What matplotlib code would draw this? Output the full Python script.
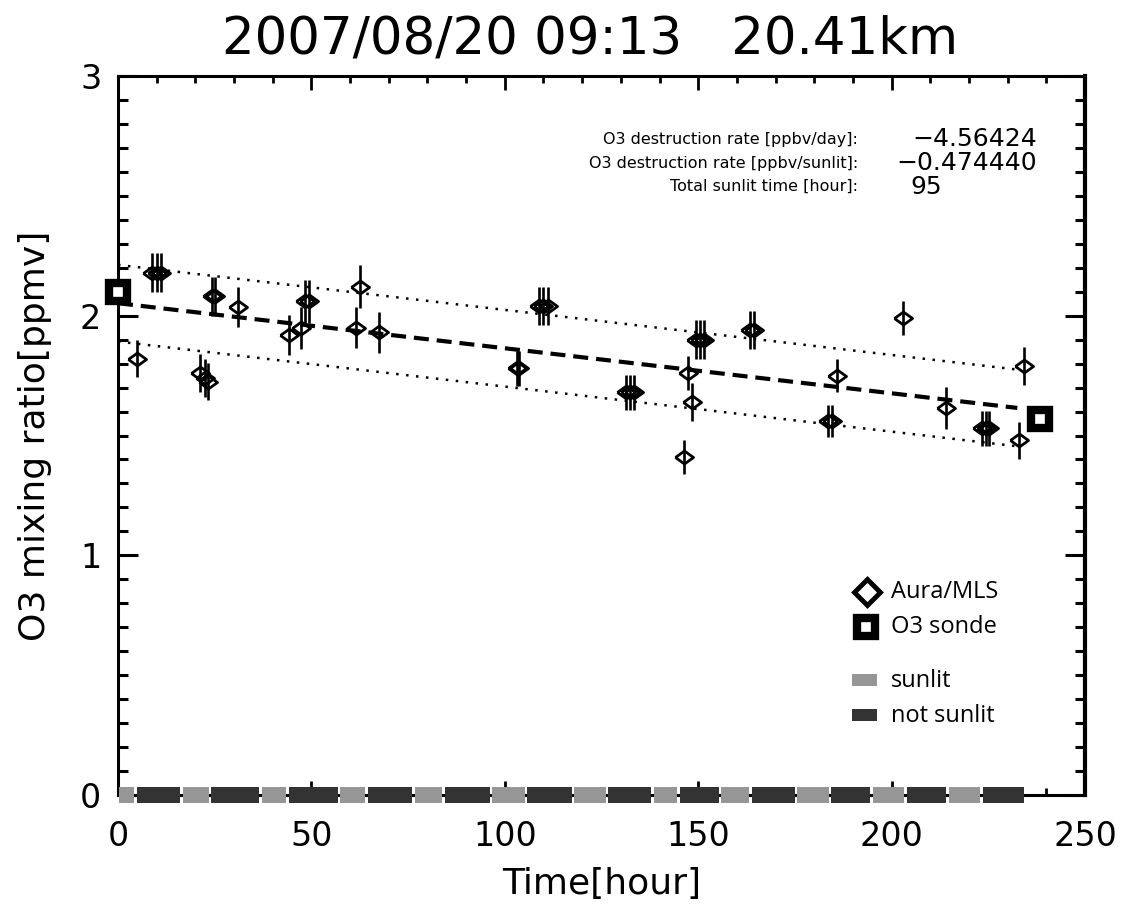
import matplotlib
matplotlib.use("Agg")
import matplotlib.pyplot as plt
from matplotlib.ticker import MultipleLocator

# Aura/MLS samples along the trajectory
mls_hour = [4.9, 8.8, 10.1, 11.1, 21.2, 22.5, 23.3, 24.3, 25.1, 31.0,
            44.2, 47.3, 48.3, 49.4, 61.5, 62.6, 67.5, 103.2, 103.7, 108.8,
            109.9, 111.2, 131.3, 132.4, 133.4, 146.3, 147.4, 148.4, 149.4, 150.5,
            151.5, 163.4, 164.4, 183.6, 184.6, 185.9, 202.9, 214.1, 223.4, 224.4,
            225.2, 232.9, 234.2]
mls_o3 = [1.82, 2.18, 2.18, 2.18, 1.76, 1.74, 1.725, 2.08, 2.08, 2.035,
          1.92, 1.95, 2.06, 2.06, 1.95, 2.12, 1.93, 1.78, 1.78, 2.04,
          2.04, 2.04, 1.68, 1.68, 1.68, 1.41, 1.76, 1.64, 1.90, 1.90,
          1.90, 1.94, 1.94, 1.56, 1.56, 1.75, 1.99, 1.615, 1.53, 1.53,
          1.53, 1.48, 1.79]
mls_err = [0.077, 0.083, 0.083, 0.083, 0.078, 0.078, 0.078, 0.083, 0.083, 0.083,
           0.083, 0.088, 0.09, 0.09, 0.085, 0.09, 0.087, 0.073, 0.073, 0.08,
           0.08, 0.08, 0.074, 0.074, 0.074, 0.072, 0.071, 0.078, 0.08, 0.08,
           0.08, 0.08, 0.08, 0.068, 0.068, 0.068, 0.072, 0.089, 0.074, 0.074,
           0.074, 0.078, 0.078]

# ozonesonde at start and end of the match
sonde_hour = [0.0, 238.4]
sonde_o3 = [2.10, 1.57]

# linear fit and its spread
fit_hour = [0.0, 232.5]
fit_o3 = [2.052, 1.615]
fit_band = 0.16

# sunlit / not sunlit periods along the trajectory
sun_edges = [0.0, 4.5, 16.5, 23.8, 36.8, 43.8, 57.1, 64.2, 76.4, 84.2, 96.4,
             105.5, 117.6, 126.4, 138.1, 144.9, 155.6, 163.5, 175.3, 184.1,
             194.8, 203.6, 214.4, 223.2, 234.5]
sun_state = [1, 0] * 12

info_labels = ["O3 destruction rate [ppbv/day]:",
               "O3 destruction rate [ppbv/sunlit]:",
               "Total sunlit time [hour]:"]
info_values = ["\u22124.56424", "\u22120.474440", "95"]

C_SUN = "#969696"
C_DARK = "#333333"

fig = plt.figure(figsize=(11.34, 9.10), dpi=100)
W, H = 1134, 910
ax = fig.add_axes([118 / W, 1 - 795 / H, 967 / W, 719 / H])

ax.set_xlim(0, 250)
ax.set_ylim(0, 3)

# regression lines
ax.plot(fit_hour, fit_o3, color="k", lw=3, linestyle=(0, (3.6, 1.9)), zorder=3)
ax.plot(fit_hour, [v + fit_band for v in fit_o3], color="k", lw=1.8,
        linestyle=(0, (1, 3)), zorder=3)
ax.plot(fit_hour, [v - fit_band for v in fit_o3], color="k", lw=1.8,
        linestyle=(0, (1, 3)), zorder=3)

# MLS points with error bars
diamond = [(-1, 0), (0, 0.72), (1, 0), (0, -0.72), (-1, 0)]
ax.errorbar(mls_hour, mls_o3, yerr=mls_err, fmt="none", ecolor="k",
            elinewidth=1.9, zorder=4)
ax.plot(mls_hour, mls_o3, linestyle="none", marker=diamond, ms=13,
        mfc="none", mec="k", mew=2, zorder=5)

# sonde
ax.plot(sonde_hour, sonde_o3, linestyle="none", marker="s", ms=12.5,
        mfc="white", mec="k", mew=6, zorder=6, clip_on=False)

# sunlit bar on the time axis
gap = 0.35
for i, state in enumerate(sun_state):
    x0 = sun_edges[i] + gap
    x1 = sun_edges[i + 1] - gap
    ax.broken_barh([(x0, x1 - x0)], (-0.034, 0.068),
                   facecolors=C_SUN if state else C_DARK, linewidth=0,
                   zorder=7, clip_on=False)

# axes styling
for side in ["left", "bottom", "top"]:
    ax.spines[side].set_linewidth(2.2)
ax.spines["right"].set_linewidth(3)
ax.xaxis.set_major_locator(MultipleLocator(50))
ax.xaxis.set_minor_locator(MultipleLocator(10))
ax.yaxis.set_major_locator(MultipleLocator(1))
ax.yaxis.set_minor_locator(MultipleLocator(0.1))
ax.tick_params(axis="x", which="major", direction="in", top=True, length=10,
               width=2, labelsize=24, pad=18)
ax.tick_params(axis="x", which="minor", direction="in", top=True, length=5,
               width=2)
ax.tick_params(axis="y", which="major", direction="in", right=True, length=14.5,
               width=2.2, labelsize=24, pad=12)
ax.tick_params(axis="y", which="minor", direction="in", right=True, length=7,
               width=2.2)
ax.set_xlabel("Time[hour]", fontsize=26, labelpad=10)
ax.set_ylabel("O3 mixing ratio[ppmv]", fontsize=26, labelpad=20)

fig.text(590 / W, 1 - 40 / H, "2007/08/20 09:13   20.41km", fontsize=37,
         ha="center", va="center")

# rate annotation
for lab, yy in zip(info_labels, [0.911, 0.878, 0.846]):
    ax.text(0.765, yy, lab, transform=ax.transAxes, fontsize=11.5,
            ha="right", va="center", fontweight="medium")
ax.text(0.95, 0.912, info_values[0], transform=ax.transAxes, fontsize=18,
        ha="right", va="center")
ax.text(0.95, 0.879, info_values[1], transform=ax.transAxes, fontsize=18,
        ha="right", va="center")
ax.text(0.819, 0.846, info_values[2], transform=ax.transAxes, fontsize=18,
        ha="left", va="center")

# legend drawn by hand
lg = dict(transform=ax.transAxes, fontsize=17, family="Open Sans",
          ha="left", va="center")
ax.plot([0.775], [0.282], transform=ax.transAxes, marker="D", ms=13,
        mfc="white", mec="k", mew=3.5, clip_on=False)
ax.text(0.799, 0.282, "Aura/MLS", **lg)
ax.plot([0.774], [0.234], transform=ax.transAxes, marker="s", ms=13.5,
        mfc="white", mec="k", mew=6, clip_on=False)
ax.text(0.799, 0.234, "O3 sonde", **lg)
ax.add_patch(plt.Rectangle((0.759, 0.151), 0.026, 0.017, transform=ax.transAxes,
                           facecolor=C_SUN, linewidth=0))
ax.text(0.799, 0.159, "sunlit", **lg)
ax.add_patch(plt.Rectangle((0.759, 0.103), 0.026, 0.017, transform=ax.transAxes,
                           facecolor=C_DARK, linewidth=0))
ax.text(0.799, 0.110, "not sunlit", **lg)

fig.savefig("out.png", dpi=100)
